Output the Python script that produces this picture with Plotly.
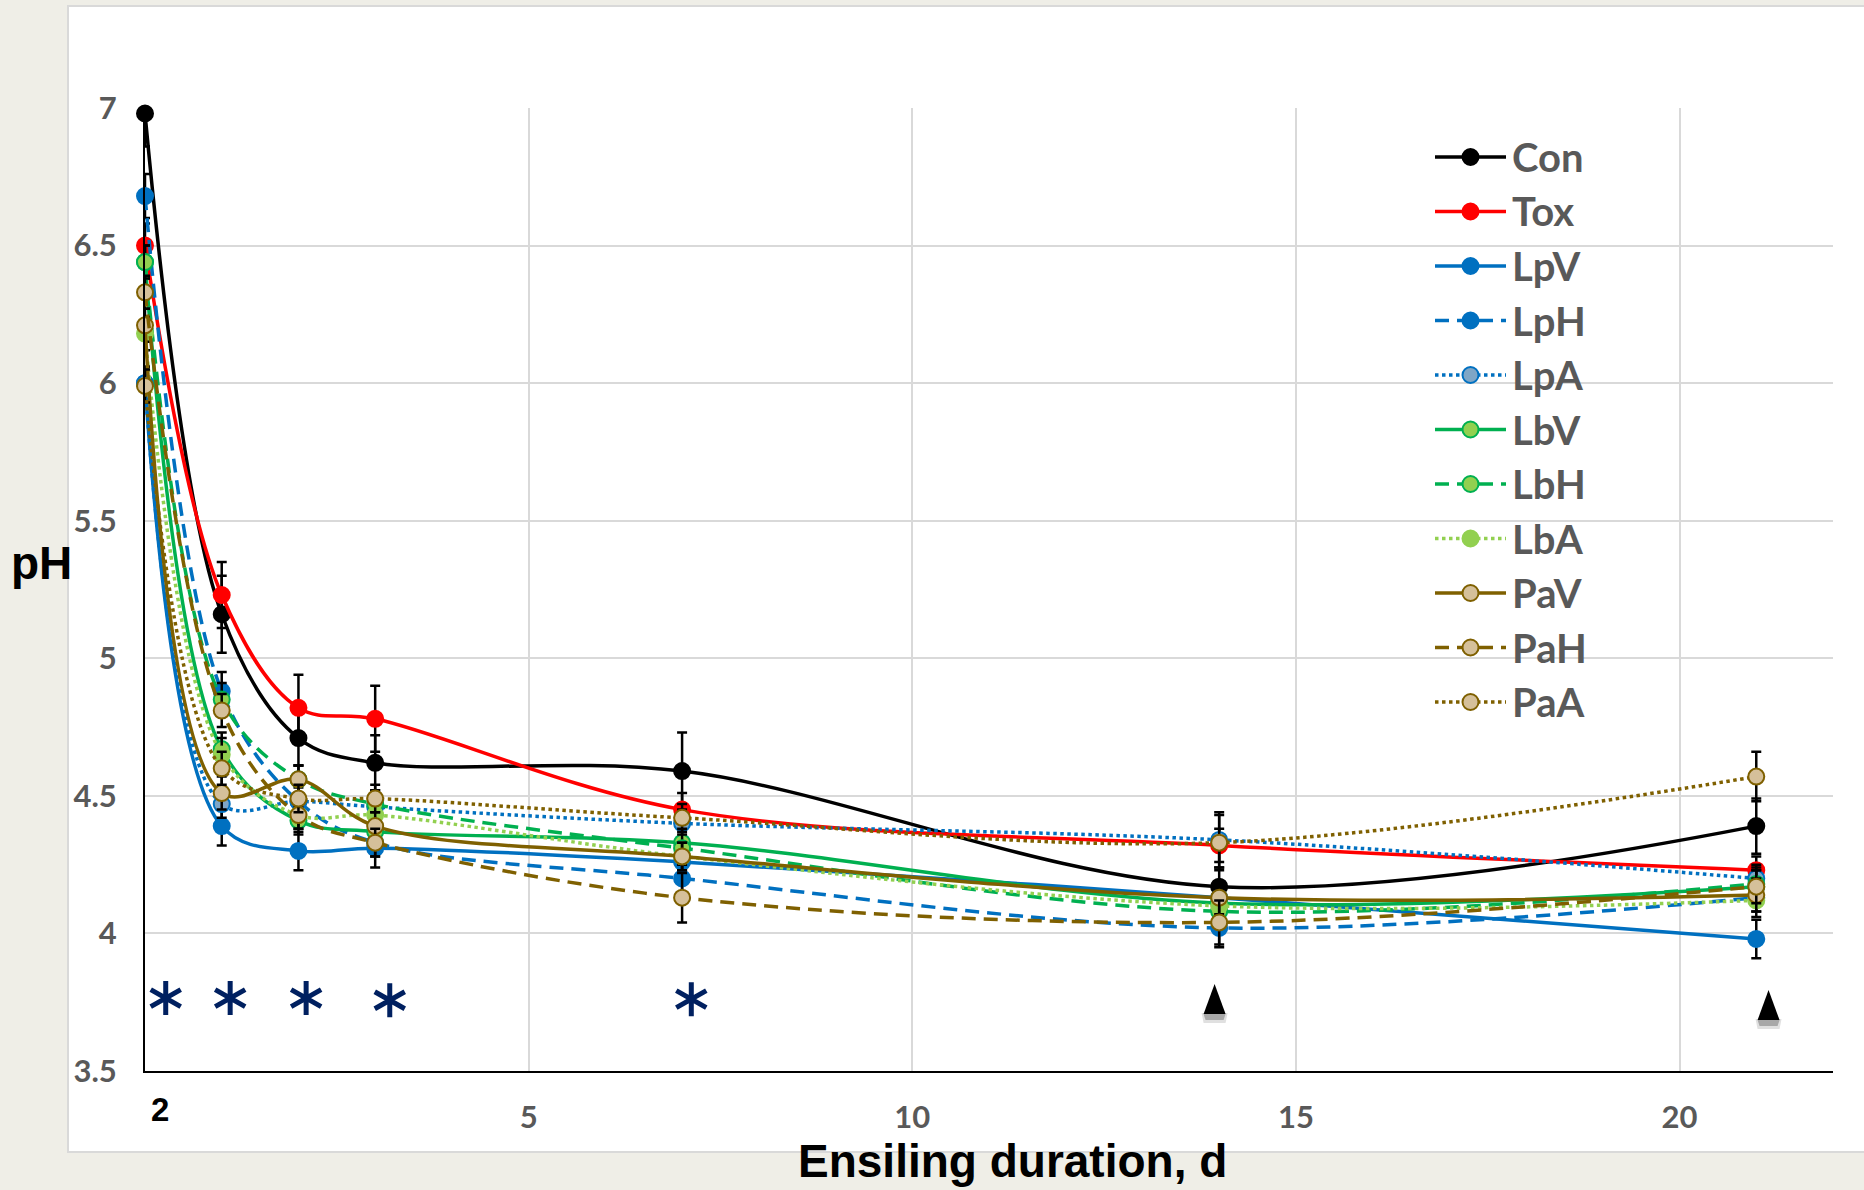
import plotly.graph_objects as go

# ---------------- data ----------------
days = [0, 1, 2, 3, 7, 14, 21]

Con = [6.98, 5.16, 4.71, 4.62, 4.59, 4.17, 4.39]
Tox = [6.50, 5.23, 4.82, 4.78, 4.45, 4.32, 4.23]
LpV = [6.00, 4.39, 4.30, 4.31, 4.26, 4.13, 3.98]
LpH = [6.68, 4.88, 4.48, 4.33, 4.20, 4.02, 4.13]
LpA = [6.00, 4.47, 4.48, 4.46, 4.40, 4.34, 4.20]
LbV = [6.44, 4.67, 4.41, 4.37, 4.33, 4.11, 4.17]
LbH = [6.44, 4.85, 4.56, 4.47, 4.31, 4.08, 4.18]
LbA = [6.18, 4.65, 4.43, 4.43, 4.28, 4.10, 4.12]
PaV = [6.21, 4.51, 4.56, 4.39, 4.28, 4.13, 4.14]
PaH = [6.33, 4.81, 4.43, 4.33, 4.13, 4.04, 4.17]
PaA = [5.99, 4.60, 4.49, 4.49, 4.42, 4.33, 4.57]

err_Con = [0.12, 0.14, 0.10, 0.10, 0.14, 0.07, 0.10]
err_Tox = [0.08, 0.12, 0.12, 0.12, 0.06, 0.06, 0.05]
err_LpV = [0.06, 0.07, 0.07, 0.07, 0.05, 0.05, 0.07]
err_LpH = [0.08, 0.07, 0.06, 0.05, 0.05, 0.07, 0.05]
err_LpA = [0.06, 0.05, 0.05, 0.05, 0.05, 0.10, 0.05]
err_LbV = [0.06, 0.06, 0.05, 0.05, 0.05, 0.06, 0.06]
err_LbH = [0.06, 0.06, 0.05, 0.05, 0.05, 0.06, 0.06]
err_LbA = [0.06, 0.06, 0.05, 0.05, 0.05, 0.06, 0.06]
err_PaV = [0.06, 0.06, 0.05, 0.05, 0.05, 0.06, 0.06]
err_PaH = [0.06, 0.06, 0.05, 0.05, 0.09, 0.08, 0.06]
err_PaA = [0.06, 0.06, 0.05, 0.05, 0.05, 0.10, 0.09]

series_names = ["Con", "Tox", "LpV", "LpH", "LpA", "LbV", "LbH", "LbA", "PaV", "PaH", "PaA"]
series_values = [Con, Tox, LpV, LpH, LpA, LbV, LbH, LbA, PaV, PaH, PaA]
series_errors = [err_Con, err_Tox, err_LpV, err_LpH, err_LpA, err_LbV, err_LbH, err_LbA,
                 err_PaV, err_PaH, err_PaA]

x_ticks = [5, 10, 15, 20]
y_ticks = [3.5, 4, 4.5, 5, 5.5, 6, 6.5, 7]
y_ticktext = ["3.5", "4", "4.5", "5", "5.5", "6", "6.5", "7"]

star_x = [0.27, 1.11, 2.10, 3.19, 7.12]
star_y = [3.765, 3.765, 3.765, 3.757, 3.761]
tri_x = [13.94, 21.16]
tri_y = [3.707, 3.685]

# ---------------- styles ----------------
BLACK = "#000000"
RED = "#ff0000"
BLUE = "#0070c0"
GREEN = "#00b050"
LGREEN = "#92d050"
BROWN = "#7f6000"
TAN = "#d5c09a"
LPAFILL = "#7fa6c6"
GRAY = "#595959"
DASH = "14px,8px"
LW = 3.5

styles = {
    "Con": dict(line=BLACK, dash="solid", fill=BLACK, edge=BLACK),
    "Tox": dict(line=RED, dash="solid", fill=RED, edge=RED),
    "LpV": dict(line=BLUE, dash="solid", fill=BLUE, edge=BLUE),
    "LpH": dict(line=BLUE, dash=DASH, fill=BLUE, edge=BLUE),
    "LpA": dict(line=BLUE, dash="dot", fill=LPAFILL, edge=BLUE),
    "LbV": dict(line=GREEN, dash="solid", fill=LGREEN, edge=GREEN),
    "LbH": dict(line=GREEN, dash=DASH, fill=LGREEN, edge=GREEN),
    "LbA": dict(line=LGREEN, dash="dot", fill=LGREEN, edge=LGREEN),
    "PaV": dict(line=BROWN, dash="solid", fill=TAN, edge=BROWN),
    "PaH": dict(line=BROWN, dash=DASH, fill=TAN, edge=BROWN),
    "PaA": dict(line=BROWN, dash="dot", fill=TAN, edge=BROWN),
}

fig = go.Figure()

for name, vals, errs in zip(series_names, series_values, series_errors):
    st = styles[name]
    fig.add_trace(go.Scatter(
        x=days, y=vals, name=name, mode="lines+markers",
        line=dict(color=st["line"], width=LW, dash=st["dash"], shape="spline", smoothing=1),
        marker=dict(size=16, color=st["fill"], line=dict(color=st["edge"], width=2)),
        error_y=dict(type="data", array=errs, visible=True, color=BLACK, thickness=2.5, width=5),
        cliponaxis=False, showlegend=False,
    ))

# ---------------- manual legend (overlay axis in paper units) ----------------
W, H = 1864, 1190
L, R, T, B = 145, 31, 108, 119
pw, ph = W - L - R, H - T - B

def px2x(px):
    return (px - L) / pw

def py2y(py):
    return (H - B - py) / ph

leg_x0, leg_xm, leg_x1, leg_tx = px2x(1435), px2x(1470.5), px2x(1506), px2x(1510)
annotations = []
for i, name in enumerate(series_names):
    st = styles[name]
    yv = py2y(157 + i * 54.5)
    fig.add_trace(go.Scatter(
        x=[leg_x0, leg_xm, leg_x1], y=[yv, yv, yv], xaxis="x2", yaxis="y2",
        mode="lines+markers",
        line=dict(color=st["line"], width=LW, dash=st["dash"]),
        marker=dict(size=16, color=st["fill"], opacity=[0, 1, 0],
                    line=dict(color=st["edge"], width=2)),
        cliponaxis=False, showlegend=False, hoverinfo="skip",
    ))
    annotations.append(dict(
        xref="paper", yref="paper", x=leg_tx, y=yv, xanchor="left", yanchor="middle",
        text=name, showarrow=False,
        font=dict(family="Lato", size=40, color=GRAY, weight="bold"),
    ))

# axis titles and stray label
annotations.append(dict(xref="paper", yref="paper", x=px2x(9), y=py2y(563),
                        xanchor="left", yanchor="middle", text="pH", showarrow=False,
                        font=dict(family="Liberation Sans", size=46, color=BLACK, weight="bold")))
annotations.append(dict(xref="paper", yref="paper", x=px2x(1012), y=py2y(1161),
                        xanchor="center", yanchor="middle", text="Ensiling duration, d",
                        showarrow=False,
                        font=dict(family="Liberation Sans", size=46, color=BLACK, weight="bold")))
annotations.append(dict(xref="paper", yref="paper", x=px2x(160), y=py2y(1109),
                        xanchor="center", yanchor="middle", text="2", showarrow=False,
                        font=dict(family="Liberation Sans", size=33, color=BLACK, weight="bold")))

# ---------------- shapes ----------------
shapes = [
    dict(type="rect", xref="paper", yref="paper", x0=px2x(68), x1=1.2,
         y0=py2y(1152), y1=py2y(6), fillcolor="white",
         line=dict(color="#d9d9d9", width=2), layer="below"),
]
star_path = "M0,-17 L0,17 M-15,-8.5 L15,8.5 M-15,8.5 L15,-8.5"
for sx, sy in zip(star_x, star_y):
    shapes.append(dict(type="path", xref="x", yref="y", xsizemode="pixel", ysizemode="pixel",
                       xanchor=sx, yanchor=sy, path=star_path,
                       line=dict(color="#002060", width=5)))
for tx, ty in zip(tri_x, tri_y):
    shapes.append(dict(type="path", xref="x", yref="y", xsizemode="pixel", ysizemode="pixel",
                       xanchor=tx, yanchor=ty, path="M-13,1 L13,1 L11,-9 L-11,-9 Z",
                       fillcolor="rgba(0,0,0,0.12)", line=dict(width=0)))
    shapes.append(dict(type="path", xref="x", yref="y", xsizemode="pixel", ysizemode="pixel",
                       xanchor=tx, yanchor=ty, path="M-11,0 L11,0 L9,-6 L-9,-6 Z",
                       fillcolor="rgba(0,0,0,0.25)", line=dict(width=0)))
    shapes.append(dict(type="path", xref="x", yref="y", xsizemode="pixel", ysizemode="pixel",
                       xanchor=tx, yanchor=ty, path="M-11,0 L11,0 L0,30 Z",
                       fillcolor=BLACK, line=dict(width=0)))

fig.update_layout(
    width=W, height=H,
    margin=dict(l=L, r=R, t=T, b=B),
    paper_bgcolor="#efeee7",
    plot_bgcolor="rgba(0,0,0,0)",
    xaxis=dict(range=[0, 22], tickvals=x_ticks, showgrid=True, gridcolor="#d9d9d9",
               gridwidth=2, zeroline=False, showline=True, linecolor=BLACK, linewidth=2,
               ticks="", ticklabelstandoff=18,
               tickfont=dict(family="Lato", size=31, color=GRAY, weight="bold")),
    yaxis=dict(range=[3.5, 7], tickvals=y_ticks, ticktext=y_ticktext, showgrid=True,
               gridcolor="#d9d9d9", gridwidth=2, zeroline=False, showline=True,
               linecolor=BLACK, linewidth=2, ticks="", ticklabelstandoff=20,
               tickfont=dict(family="Lato", size=31, color=GRAY, weight="bold")),
    xaxis2=dict(overlaying="x", anchor="y2", range=[0, 1], visible=False),
    yaxis2=dict(overlaying="y", anchor="x2", range=[0, 1], visible=False),
    shapes=shapes,
    annotations=annotations,
    showlegend=False,
)

fig.write_html("out.html",
               config={"displayModeBar": False},
               post_script="document.body.style.margin='0px';"
                           "document.body.style.background='#efeee7';")
